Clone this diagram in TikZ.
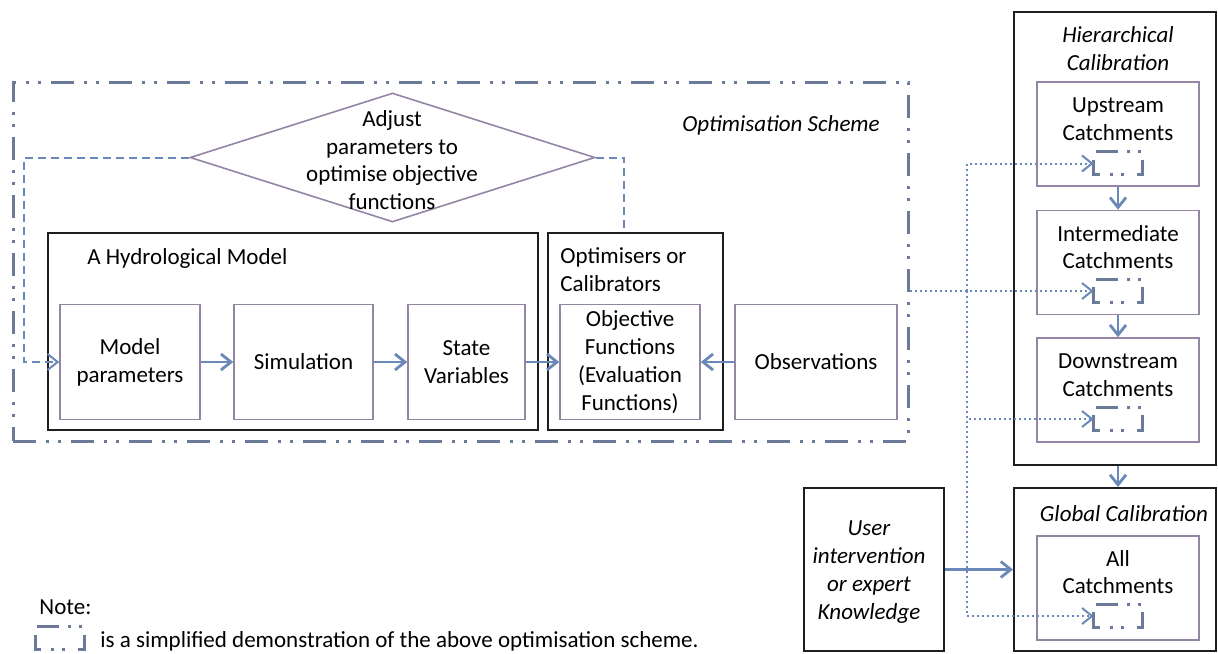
\documentclass[tikz,border=0pt]{standalone}
\usepackage{fontspec}
\setmainfont{Carlito}
\usepackage{xcolor}
\usepackage{tikz}
\usetikzlibrary{positioning, arrows.meta, shapes.geometric}
\definecolor{schemegrey}{HTML}{6A7A98}
\definecolor{linkblue}{HTML}{6A88B8}
\definecolor{boxlilac}{HTML}{9585A5}
\definecolor{inkblack}{HTML}{1E1E1E}
\newcommand{\diagfont}{\fontsize{11.5}{13.9}\selectfont}

\begin{document}
\begin{tikzpicture}[
  x=0.5pt, y=-0.5pt,
  font=\diagfont,
  outer/.style={draw=inkblack, line width=1pt, inner sep=0pt},
  box/.style={draw=boxlilac, line width=0.8pt, align=center, inner sep=2pt},
  title/.style={inner sep=0pt, align=left},
  itext/.style={font=\diagfont\itshape, align=center, inner sep=0pt},
  ctext/.style={align=center, inner sep=0pt},
  mini/.style={minimum width=24.5pt, minimum height=11.5pt, inner sep=0pt},
  icon/.style={draw=schemegrey, line width=1.5pt},
  link/.style={draw=linkblue, line width=1.4pt},
  dashlink/.style={link, line width=1pt, dash pattern=on 4pt off 2.5pt},
  dotlink/.style={link, line width=1pt, dash pattern=on 1pt off 1.5pt},
  >={Straight Barb[length=5pt, width=8pt]}
]
\useasboundingbox (0,0) rectangle (1218,653);

\node[draw=schemegrey, line width=1.5pt, dash pattern=on 11.5pt off 5pt on 1.5pt off 4.5pt on 1.5pt off 5pt,
  minimum width=447.5pt, minimum height=179.5pt, inner sep=0pt] (scheme) at (460.5,261.5) {};
\node[itext] (schemetitle) at (781,125) {Optimisation Scheme};

\node[diamond, draw=boxlilac, line width=0.8pt, minimum width=202.5pt, minimum height=64.5pt, inner sep=0pt] (adjust) at (392.5,157.5) {};
\node[ctext] (adjusttext) at (392,160) {Adjust\\parameters to\\optimise objective\\functions};

\node[outer, minimum width=245pt, minimum height=98.5pt] (hydro) at (293,331.5) {};
\node[title, anchor=west] (hydrotitle) at (87,258) {A Hydrological Model};
\node[outer, minimum width=87.5pt, minimum height=98.5pt] (optim) at (635.5,331.5) {};
\node[title, anchor=west] (optimtitle) at (560,270) {Optimisers or\\Calibrators};

\node[box, minimum width=70pt, minimum height=57.5pt] (params) at (130,362) {Model\\parameters};
\node[box, minimum width=69.5pt, minimum height=57.5pt] (sim) at (303.5,362) {Simulation};
\node[box, minimum width=58.5pt, minimum height=57.5pt] (state) at (466.5,362) {State\\Variables};
\node[box, minimum width=70pt, minimum height=57.5pt] (objective) at (630,362) {Objective\\Functions\\(Evaluation\\Functions)};
\node[box, minimum width=81pt, minimum height=57.5pt] (obs) at (816,362) {Observations};

\node[outer, minimum width=101pt, minimum height=226.5pt] (hier) at (1115,238.5) {};
\node[itext] (hiertitle) at (1118,48.5) {Hierarchical\\Calibration};
\node[box, minimum width=81pt, minimum height=52pt] (up) at (1118,134) {};
\node[ctext] (uptext) at (1118,119) {Upstream\\Catchments};
\node[mini] (upi) at (1118.5,163.5) {};
\node[box, minimum width=81pt, minimum height=52pt] (mid) at (1118,262.5) {};
\node[ctext] (midtext) at (1118,247) {Intermediate\\Catchments};
\node[mini] (midi) at (1118.5,291) {};
\node[box, minimum width=81pt, minimum height=52pt] (down) at (1118,390) {};
\node[ctext] (downtext) at (1118,375) {Downstream\\Catchments};
\node[mini] (downi) at (1118.5,419) {};

\node[outer, minimum width=101pt, minimum height=81.5pt] (global) at (1115,569.5) {};
\node[itext] (globaltitle) at (1124,514) {Global Calibration};
\node[box, minimum width=81pt, minimum height=52pt] (all) at (1118,588) {};
\node[ctext] (alltext) at (1118,572) {All\\Catchments};
\node[mini] (alli) at (1118.5,616) {};

\node[outer, minimum width=70pt, minimum height=81.5pt] (user) at (874,569.5) {};
\node[itext] (usertext) at (869,572) {User\\intervention\\or expert\\Knowledge};

\node[title, anchor=west] (note) at (39,607) {Note:};
\node[mini] (notei) at (60,638.5) {};
\node[title, anchor=west] (notetext) at (100,641) {is a simplified demonstration of the above optimisation scheme.};

\foreach \m in {upi, midi, downi, alli, notei} {
  \draw[icon] ([shift={(2,0)}]\m.north west) -- ++(22,0)
    ([shift={(33,0)}]\m.north west) -- ++(3,0)
    ([shift={(44,0)}]\m.north west) -- ++(3,0)
    ([shift={(0,8)}]\m.north west) -- ++(0,15) -- ++(6,0)
    ([shift={(16,23)}]\m.north west) -- ++(3,0)
    ([shift={(27,23)}]\m.north west) -- ++(3,0)
    ([shift={(49,8)}]\m.north west) -- ++(0,15) -- ++(-6,0);
}

\draw[dashlink] (adjust.east) -| ([xshift=-5.75pt]optim.north);
\draw[dashlink, ->] (adjust.west) -- ++(-165,0) |- (params.west);

\draw[link, ->] (params) -- (sim);
\draw[link, ->] (sim) -- (state);
\draw[link, ->] (state) -- (objective);
\draw[link, ->] (obs) -- (objective);

\draw[link, ->] (up) -- (mid);
\draw[link, ->] (mid) -- (down);
\draw[link, ->] (hier.south -| down) -- (global.north -| down);
\draw[link, ->] (user) -- (global);

\coordinate (tap) at (967,291);
\draw[dotlink, ->] (scheme.east |- midi) -- (midi.west);
\draw[dotlink, ->] (tap) |- (upi.west);
\draw[dotlink, ->] (tap) |- (downi.west);
\draw[dotlink, ->] (tap) |- (alli.west);
\end{tikzpicture}
\end{document}
